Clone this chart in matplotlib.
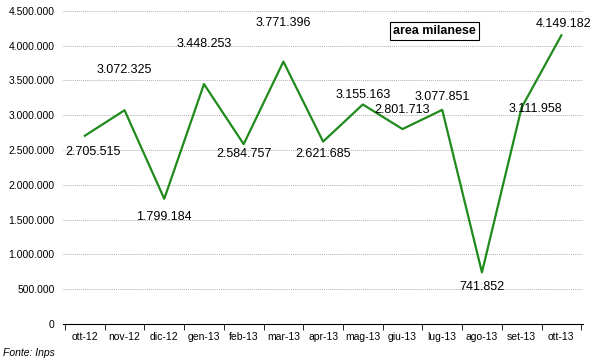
import matplotlib
matplotlib.use("Agg")
import matplotlib.pyplot as plt
import numpy as np
from matplotlib.ticker import FuncFormatter, FixedLocator

plt.rcParams['font.family'] = ['Liberation Sans', 'DejaVu Sans']

categories = ["ott-12", "nov-12", "dic-12", "gen-13", "feb-13", "mar-13", "apr-13",
              "mag-13", "giu-13", "lug-13", "ago-13", "set-13", "ott-13"]
values = [2705515, 3072325, 1799184, 3448253, 2584757, 3771396, 2621685,
          3155163, 2801713, 3077851, 741852, 3111958, 4149182]
# label offsets in pixels (dx, dy)
label_offsets = [(8, -16), (0, 40), (0, -18), (0, 40), (0, -10), (0, 39), (0, -12),
                 (0, 9), (0, 19), (0, 13), (0, -15), (14, -2), (2, 11)]

def fmt(v):
    return f"{v:,}".replace(",", ".")

fig = plt.figure(figsize=(6, 3.64), dpi=100)
ax = fig.add_axes([0.105, 0.11, 0.867, 0.86])
x = np.arange(len(categories))
ax.plot(x, values, color='#208a1c', lw=1.6)
ax.set_xlim(-0.55, len(categories) - 0.45)
ax.set_ylim(0, 4500000)
ax.set_yticks(np.arange(0, 4500001, 500000))
ax.yaxis.set_major_formatter(FuncFormatter(lambda v, p: fmt(int(v))))
ax.grid(axis='y', color='#b0b0b0', linestyle=(0, (1, 1)), linewidth=0.7)
ax.set_axisbelow(True)
for s in ['left', 'right', 'top']:
    ax.spines[s].set_visible(False)
ax.spines['bottom'].set_color('black')
ax.tick_params(axis='y', length=0, labelsize=7.5, pad=6)
ax.set_xticks(x)
ax.set_xticklabels(categories, fontsize=7.5)
ax.tick_params(axis='x', which='major', length=0, pad=6)
ax.xaxis.set_minor_locator(FixedLocator(np.arange(-0.5, len(categories), 1.0)))
ax.tick_params(axis='x', which='minor', length=4, direction='out', color='black')

for xi, v, (dx, dy) in zip(x, values, label_offsets):
    ax.annotate(fmt(v), (xi, v), xytext=(dx, dy), textcoords='offset pixels',
                ha='center', va='center', fontsize=9)

ax.text(0.635, 0.935, "area milanese", transform=ax.transAxes, fontsize=9, fontweight='bold',
        ha='left', va='center',
        bbox=dict(boxstyle='square,pad=0.25', fc='white', ec='black', lw=0.8))

fig.text(0.005, 0.03, "Fonte: Inps", fontsize=7.5, style='italic', ha='left', va='center')

fig.savefig("out.png", dpi=100)
